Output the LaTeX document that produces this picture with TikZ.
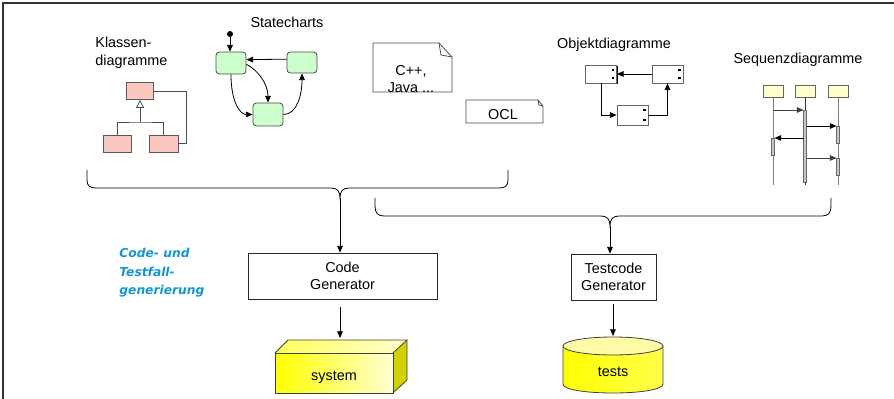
\documentclass[tikz,border=0pt]{standalone}
\usepackage{fontspec}
\setmainfont{Liberation Sans}
\newfontfamily\handfont{DejaVu Sans}
\usetikzlibrary{arrows.meta,shadows}
\definecolor{classpink}{RGB}{250,200,190}
\definecolor{stategreen}{RGB}{204,255,204}
\definecolor{seqyellow}{RGB}{255,255,204}
\definecolor{handblue}{RGB}{20,150,210}
\definecolor{sideyellow}{RGB}{210,210,0}
\begin{document}
\begin{tikzpicture}[x=0.75pt,y=-0.75pt, font=\fontsize{10.8}{13}\selectfont, line width=0.6pt,
  arr/.style={-{Triangle[length=5pt,width=4.2pt]}},
  classbox/.style={draw=black!65, fill=classpink, minimum width=28*0.75pt, minimum height=17*0.75pt, inner sep=0pt},
  statebox/.style={draw=black!70, fill=stategreen, rounded corners=2.5pt, minimum width=30*0.75pt, minimum height=22*0.75pt, inner sep=0pt},
  objbox/.style={draw=black!60, fill=white, minimum width=31*0.75pt, minimum height=18*0.75pt, inner sep=0pt,
     drop shadow={shadow xshift=0.9pt, shadow yshift=-0.9pt, fill=black, opacity=1}},
  seqbox/.style={draw=black!60, fill=seqyellow, minimum width=20*0.75pt, minimum height=12*0.75pt, inner sep=0pt},
  genbox/.style={draw=black!85, fill=white, align=center, inner sep=0pt},
  lbl/.style={inner sep=0pt, align=center},
  bar/.style={draw=black!60, fill=gray!45, line width=0.4pt}
  ]
\useasboundingbox (0,0) rectangle (894,399);
% frame
\draw[line width=0.9pt, black!80] (3,399) -- (3,3) -- (894,3);

% ---------- class diagram
\node[lbl, anchor=west, align=left, font=\fontsize{10.8}{13.5}\selectfont] (klt) at (95,53) {Klassen-\\diagramme};
\node[classbox, minimum width=27*0.75pt] (c1) at (140,91) {};
\node[classbox] (c2) at (117,143.5) {};
\node[classbox, minimum width=29*0.75pt] (c3) at (163.5,143.5) {};
\coordinate (cj) at (140,122);
\draw[black!70] (c2.north) |- (cj) -| (c3.north);
\draw[black!70, -{Triangle[open, length=6pt, width=6pt]}] (cj) -- (c1.south);
\draw[black!70] (c1.east) -- ++(32,0) |- (c3.east);

% ---------- statecharts
\node[lbl] (stt) at (287,22) {Statecharts};
\node[circle, fill=black, inner sep=0pt, minimum size=6*0.75pt] (s0) at (230,34) {};
\node[statebox] (s1) at (231,63) {};
\node[statebox, minimum height=21*0.75pt] (s2) at (302,62.5) {};
\node[statebox, minimum height=23*0.75pt] (s3) at (268,114.5) {};
\draw[arr] (s0) -- (s0 |- s1.north);
\draw[arr] ([yshift=2.5pt]s2.west) -- ([yshift=2.5pt]s1.east);
\draw[arr] ([yshift=-1pt]s1.east) .. controls (258,70) and (268,84) .. (s3.north);
\draw[arr] (s1.south) .. controls (231,102) and (240,114.5) .. (s3.west);
\draw[arr] (s3.east) .. controls (297,114.5) and (302,95) .. (s2.south);

% ---------- notes
\draw[black!70, fill=white] (373,43) -- (439,43) -- (452,57) -- (452,92) -- (373,92) -- cycle;
\draw[black!70] (439,43) -- (441,55) -- (452,57);
\node[lbl, font=\fontsize{10.8}{13}\selectfont] (code) at (411,79) {C++,\\Java ...};
\draw[black!70, fill=white] (466,100) -- (538,100) -- (543,106) -- (543,123) -- (466,123) -- cycle;
\draw[black!70] (538,100) -- (539,105) -- (543,106);
\node[lbl] (ocl) at (503,115) {OCL};

% ---------- object diagrams
\node[lbl] (obt) at (614,45) {Objektdiagramme};
\node[objbox] (o1) at (601,74) {};
\node[objbox] (o2) at (667.5,74) {};
\node[objbox, minimum height=20*0.75pt] (o3) at (632.5,115) {};
\foreach \o in {o1,o2,o3}{
  \fill ([xshift=-3.8pt,yshift=-3pt]\o.north east) rectangle ++(2.5,2);
  \fill ([xshift=-3.8pt,yshift=3pt]\o.south east) rectangle ++(2.5,-2);
}
\draw[arr] (o2.west) -- (o1.east);
\draw[arr] (o1.south) |- (o3.west);
\draw[arr] (o3.east) -| (o2.south);

% ---------- sequence diagram
\node[lbl] (sqt) at (798,60) {Sequenzdiagramme};
\node[seqbox] (q1) at (773,91) {};
\node[seqbox] (q2) at (805,91) {};
\node[seqbox] (q3) at (838,91) {};
\coordinate (q1e) at (773,185);
\coordinate (q2e) at (805,185);
\coordinate (q3e) at (838,185);
\draw[gray, line width=0.7pt] (q1.south) -- (q1e);
\draw[black!80, line width=0.6pt] (q2.south) -- (q2e);
\draw[gray, line width=0.7pt] (q3.south) -- (q3e);
\draw[bar] (771.5,138) rectangle (774.5,155);
\draw[bar] (803.5,110) rectangle (806.5,182);
\draw[bar] (836.5,126) rectangle (839.5,143);
\draw[bar] (836.5,158) rectangle (839.5,175);
\draw[arr, black!75] (773,110) -- (803.5,110);
\draw[arr] (806.5,126) -- (836.5,126);
\draw[arr] (803.5,138) -- (774.5,138);
\draw[arr, black!75] (806.5,158) -- (836.5,158);

% ---------- braces
\draw (87,170) -- (87,180) .. controls (87,186) and (90,188) .. (96,188) -- (331,188)
  .. controls (337,188) and (340,191) .. (340,198)
  .. controls (340,191) and (343,188) .. (349,188) -- (499,188)
  .. controls (505,188) and (508,186) .. (508,180) -- (508,170);
\coordinate (b1) at (340,198);
\draw (375,198) -- (375,206) .. controls (375,213) and (378,216) .. (384,216) -- (601,216)
  .. controls (607,216) and (610,219) .. (610,226)
  .. controls (610,219) and (613,216) .. (619,216) -- (822,216)
  .. controls (828,216) and (831,213) .. (831,206) -- (831,198);
\coordinate (b2) at (610,226);

% ---------- generators
\node[lbl, anchor=west, align=left, text=handblue, font=\handfont\bfseries\itshape\fontsize{9.2}{13.9}\selectfont] (cg) at (119,273) {Code- und\\Testfall-\\generierung};
\node[genbox, minimum width=189*0.75pt, minimum height=46*0.75pt] (cgen) at (342.5,276) {Code\\Generator};
\node[genbox, minimum width=85*0.75pt, minimum height=46*0.75pt] (tgen) at (613.5,277) {Testcode\\Generator};
\draw[arr] (b1) -- (b1 |- cgen.north);
\draw[arr] (b2) -- (b2 |- tgen.north);

% ---------- system box
\shade[left color=yellow, right color=yellow!18] (275,353) rectangle (393,393);
\shade[left color=yellow!65, right color=yellow!20] (275,353) -- (288,340) -- (407,340) -- (393,353) -- cycle;
\fill[sideyellow] (393,353) -- (407,340) -- (407,380) -- (393,393) -- cycle;
\draw[black!75] (275,353) rectangle (393,393);
\draw[black!75] (275,353) -- (288,340) -- (407,340) -- (393,353);
\draw[black!75] (407,340) -- (407,380) -- (393,393);
\node[lbl] (sys) at (334,377) {system};
\coordinate (systop) at (340,338);
\draw[arr, shorten <=6pt] (cgen.south -| systop) -- (systop);

% ---------- tests cylinder
\shade[left color=yellow, middle color=yellow!12, right color=yellow!70] (563,346) -- (563,384) .. controls (563,396) and (663,396) .. (663,384) -- (663,346) -- cycle;
\draw[black!75] (563,346) -- (563,384) .. controls (563,396) and (663,396) .. (663,384) -- (663,346);
\draw[black!75, fill=yellow!35] (613,346) ellipse [x radius=50, y radius=9];
\node[lbl] (tst) at (613,372) {tests};
\coordinate (tsttop) at (613,336);
\draw[arr, shorten <=3pt] (tgen.south -| tsttop) -- (tsttop);
\end{tikzpicture}
\end{document}
